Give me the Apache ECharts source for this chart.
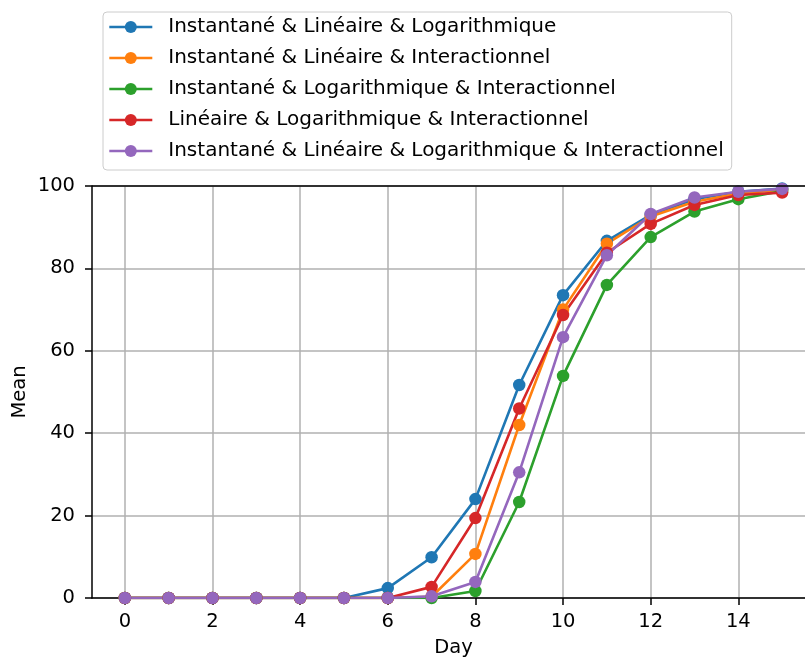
<!DOCTYPE html>
<html><head><meta charset="utf-8">
<script src="https://cdn.jsdelivr.net/npm/echarts@6/dist/echarts.min.js"></script>
<style>html,body{margin:0;padding:0;background:#fff}#c{width:805px;height:659px}</style>
</head><body><div id="c"></div>
<script>
const days = [0,1,2,3,4,5,6,7,8,9,10,11,12,13,14,15];
const xTicks = [0,2,4,6,8,10,12,14];
const seriesNames = [
  'Instantané & Linéaire & Logarithmique',
  'Instantané & Linéaire & Interactionnel',
  'Instantané & Logarithmique & Interactionnel',
  'Linéaire & Logarithmique & Interactionnel',
  'Instantané & Linéaire & Logarithmique & Interactionnel'
];
const blueVals   = [0,0,0,0,0,0,2.4,9.9,24.0,51.7,73.5,86.7,93.0,96.8,98.6,99.4];
const orangeVals = [0,0,0,0,0,0,0,0.3,10.7,42.0,70.0,86.0,92.6,96.2,98.2,99.1];
const greenVals  = [0,0,0,0,0,0,0,0,1.7,23.3,53.9,76.0,87.6,93.8,96.8,98.8];
const redVals    = [0,0,0,0,0,0,0,2.7,19.4,46.0,68.7,83.8,90.8,95.4,97.8,98.4];
const purpleVals = [0,0,0,0,0,0,0,0.4,3.9,30.5,63.3,83.2,93.2,97.2,98.6,99.3];
const colors = ['#1f77b4','#ff7f0e','#2ca02c','#d62728','#9467bd'];
const allVals = [blueVals, orangeVals, greenVals, redVals, purpleVals];

const font = 'DejaVu Sans';
const fs = 19.5;
const chart = echarts.init(document.getElementById('c'), null, {renderer:'canvas'});
chart.setOption({
  animation: false,
  textStyle: {fontFamily: font},
  grid: {left: 92, top: 186, bottom: 61, right: -10, containLabel: false, outerBoundsMode: 'none'},
  legend: {
    left: 103, top: 12, orient: 'vertical',
    padding: [5, 8, 9, 5],
    borderColor: '#cccccc', borderWidth: 1, borderRadius: 4,
    itemWidth: 43, itemHeight: 15, itemGap: 11,
    lineStyle: {width: 2.6},
    textStyle: {fontFamily: font, fontSize: 20, color: '#000', lineHeight: 20, padding: [0,0,0,11]},
    data: seriesNames
  },
  xAxis: {
    type: 'value', min: -0.75, max: 15.75,
    name: 'Day', nameLocation: 'middle', nameGap: 40, nameMoveOverlap: false,
    nameTextStyle: {fontFamily: font, fontSize: fs, color: '#000'},
    axisLine: {show: true, onZero: false, lineStyle: {color: '#000', width: 1.5}},
    axisTick: {show: true, length: 7, lineStyle: {color: '#000', width: 1.5}, customValues: xTicks},
    axisLabel: {fontFamily: font, fontSize: fs, color: '#000', margin: 14, customValues: xTicks},
    splitLine: {show: true, lineStyle: {color: '#b0b0b0', width: 1.5}}
  },
  yAxis: {
    type: 'value', min: 0, max: 100, interval: 20,
    name: 'Mean', nameLocation: 'middle', nameGap: 62, nameRotate: 90, nameMoveOverlap: false,
    nameTextStyle: {fontFamily: font, fontSize: fs, color: '#000'},
    axisLine: {show: true, onZero: false, lineStyle: {color: '#000', width: 1.5}},
    axisTick: {show: true, length: 7, lineStyle: {color: '#000', width: 1.5}},
    axisLabel: {fontFamily: font, fontSize: fs, color: '#000', margin: 17},
    splitLine: {show: true, lineStyle: {color: '#b0b0b0', width: 1.5}}
  },
  series: seriesNames.map((n, i) => ({
    name: n, type: 'line',
    data: days.map((d, j) => [d, allVals[i][j]]),
    symbol: 'circle', symbolSize: 12.5,
    itemStyle: {color: colors[i]},
    lineStyle: {color: colors[i], width: 2.6},
    emphasis: {disabled: true}
  })),
  graphic: [{type: 'line', shape: {x1: 92, y1: 186, x2: 805, y2: 186}, style: {stroke: '#000', lineWidth: 1.5}, z: 100}]
});
</script></body></html>
